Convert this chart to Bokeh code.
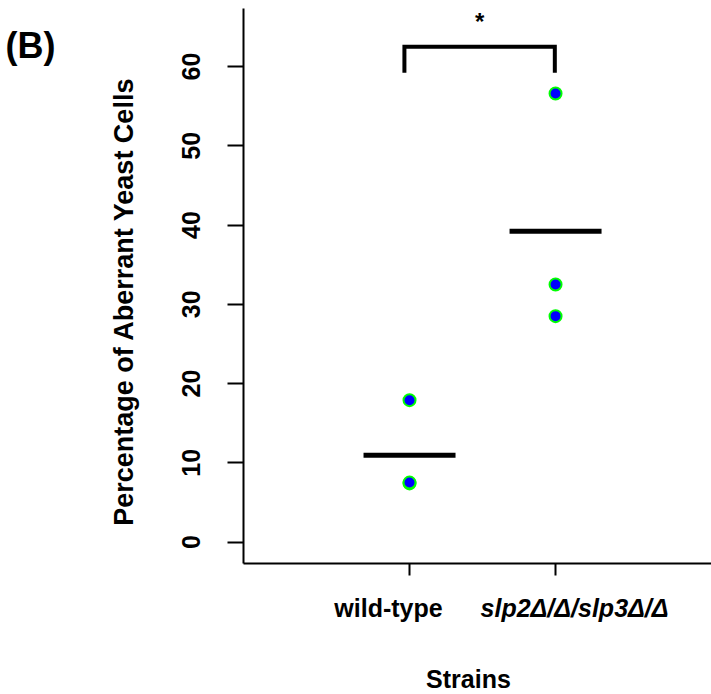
import math
from bokeh.plotting import figure
from bokeh.layouts import column, row
from bokeh.models import Range1d, FixedTicker
from bokeh.core.properties import value
from bokeh.embed import file_html
from bokeh.resources import INLINE

# ---- data ----
strains = ["wild-type", "slp2Δ/Δ/slp3Δ/Δ"]
strain_pos = [1, 2]
wt_values = [17.9, 7.4, 7.5]
slp_values = [56.6, 32.5, 28.5]
y_ticks = [0, 10, 20, 30, 40, 50, 60]
bracket_x = [0.965, 1.995]
bracket_y = [59.2, 62.5]
sig_text = "*"
panel_tag = "(B)"
x_title = "Strains"
y_title = "Percentage of Aberrant Yeast Cells"

FONT = "Liberation Sans"
W, H = 711, 694
TAG_W = 150          # left strip holding "(B)" and the y title
FRAME_LEFT = 243
FRAME_TOP = 8
FRAME_BOTTOM = 563   # y of x-axis line
TOP_H = FRAME_BOTTOM + 30
BOT_H = H - TOP_H

x0, x1 = -0.137, 3.068
y0, y1 = -2.71, 67.32

# ---------------- main plot ----------------
p = figure(width=W - TAG_W, height=TOP_H, x_range=Range1d(x0, x1), y_range=Range1d(y0, y1),
           output_backend="svg", toolbar_location=None,
           min_border_left=FRAME_LEFT - TAG_W, min_border_right=0,
           min_border_top=FRAME_TOP, min_border_bottom=TOP_H - FRAME_BOTTOM)
p.outline_line_color = None
p.xgrid.visible = False
p.ygrid.visible = False

p.yaxis.ticker = FixedTicker(ticks=y_ticks)
p.yaxis.major_label_orientation = "vertical"
p.yaxis.major_label_text_font = FONT
p.yaxis.major_label_text_font_style = "bold"
p.yaxis.major_label_text_font_size = "25px"
p.yaxis.major_label_text_color = "black"
p.yaxis.major_label_standoff = 27
p.yaxis.major_tick_out = 16
p.yaxis.major_tick_in = 0
p.yaxis.minor_tick_line_color = None
p.yaxis.major_tick_line_width = 2
p.yaxis.axis_line_width = 2

p.xaxis.ticker = FixedTicker(ticks=strain_pos)
p.xaxis.major_label_overrides = {1: " ", 2: " "}
p.xaxis.major_label_text_font_size = "1px"
p.xaxis.major_tick_out = 12
p.xaxis.major_tick_in = 0
p.xaxis.minor_tick_line_color = None
p.xaxis.major_tick_line_width = 2
p.xaxis.axis_line_width = 2

means = [sum(wt_values) / len(wt_values), sum(slp_values) / len(slp_values)]
half = 0.315
p.segment(x0=[s - half for s in strain_pos], y0=means,
          x1=[s + half for s in strain_pos], y1=means,
          line_color="black", line_width=5, line_cap="butt")

p.scatter(x=[strain_pos[0]] * len(wt_values), y=wt_values, size=12,
          fill_color="#0000FF", line_color="#00FF00", line_width=2)
p.scatter(x=[strain_pos[1]] * len(slp_values), y=slp_values, size=12,
          fill_color="#0000FF", line_color="#00FF00", line_width=2)

p.line(x=[bracket_x[0], bracket_x[0], bracket_x[1], bracket_x[1]],
       y=[bracket_y[0], bracket_y[1], bracket_y[1], bracket_y[0]],
       line_color="black", line_width=4, line_join="miter")
p.text(x=[(bracket_x[0] + bracket_x[1]) / 2], y=[bracket_y[1]], text=[sig_text],
       y_offset=-25, text_align="center", text_baseline="alphabetic",
       text_font=value(FONT), text_font_style="bold", text_font_size="24px",
       text_color="black")

# ---------------- left strip: panel tag + y title ----------------
tag = figure(width=TAG_W, height=TOP_H, x_range=Range1d(0, TAG_W), y_range=Range1d(0, TOP_H),
             output_backend="svg", toolbar_location=None,
             x_axis_location=None, y_axis_location=None,
             min_border_left=0, min_border_right=0, min_border_top=0, min_border_bottom=0)
tag.outline_line_color = None
tag.xgrid.visible = False
tag.ygrid.visible = False
tag.text(x=[5], y=[TOP_H - 40], text=[panel_tag], text_align="left",
         text_baseline="alphabetic", text_font=value(FONT), text_font_style="bold",
         text_font_size="36px", text_color="black")
tag.text(x=[123], y=[TOP_H - 313], text=[y_title], angle=math.pi / 2,
         text_align="center", text_baseline="alphabetic", text_font=value(FONT),
         text_font_style="bold", text_font_size="27px", text_color="black")

# ---------------- bottom strip: category labels + x title ----------------
bot = figure(width=W, height=BOT_H, x_range=p.x_range, y_range=Range1d(0, BOT_H),
             output_backend="svg", toolbar_location=None,
             x_axis_location=None, y_axis_location=None,
             min_border_left=FRAME_LEFT, min_border_right=0, min_border_top=0,
             min_border_bottom=0)
bot.outline_line_color = None
bot.xgrid.visible = False
bot.ygrid.visible = False
styles = ["bold", "bold italic"]
offs = [-21, 19]
for s, name, st, o in zip(strain_pos, strains, styles, offs):
    bot.text(x=[s], y=[BOT_H - 14], text=[name], x_offset=o, text_align="center",
             text_baseline="alphabetic", text_font=value(FONT), text_font_style=st,
             text_font_size="25px", text_color="black")
bot.text(x=[(x0 + x1) / 2], y=[BOT_H - 85], text=[x_title], x_offset=-9, text_align="center",
         text_baseline="alphabetic", text_font=value(FONT), text_font_style="bold",
         text_font_size="25px", text_color="black")

layout = column(row(tag, p, spacing=0), bot, spacing=0)
open("out.html", "w").write(file_html(layout, INLINE))
